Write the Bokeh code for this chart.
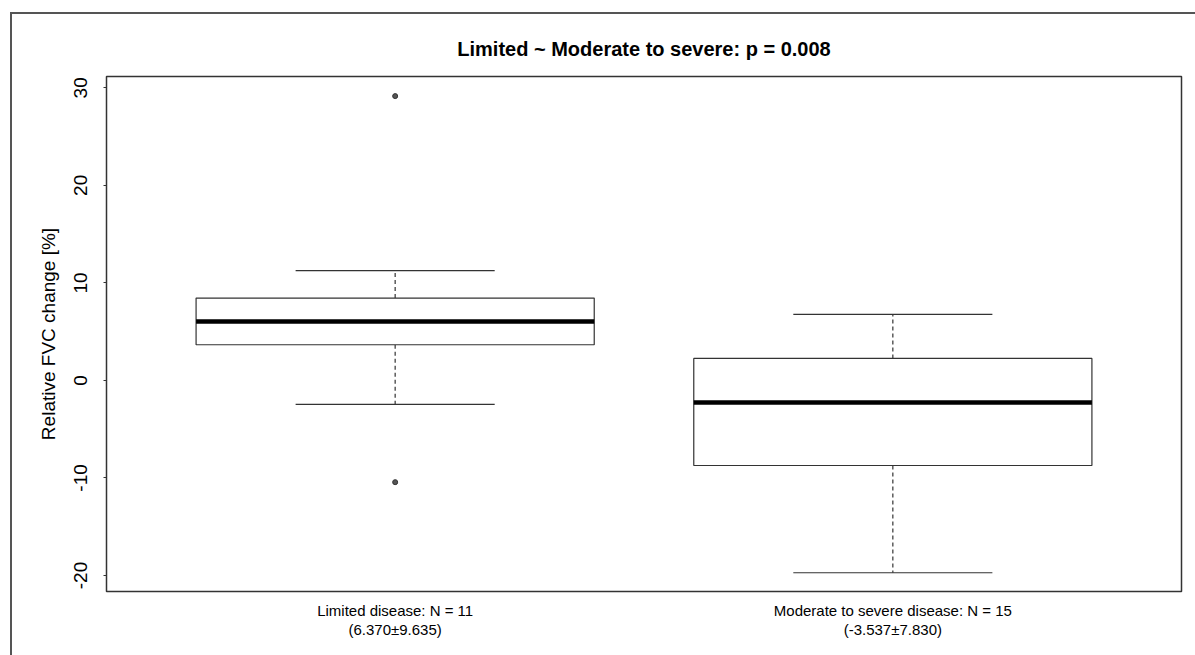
from bokeh.plotting import figure
from bokeh.models import ColumnDataSource, FixedTicker, Range1d, InlineStyleSheet
from bokeh.embed import file_html
from bokeh.resources import INLINE

# Five-number summaries of relative FVC change per disease group
group_labels = [
    "Limited disease: N = 11\n(6.370\u00b19.635)",
    "Moderate to severe disease: N = 15\n(-3.537\u00b17.830)",
]
group_pos = [1, 2]
lower_whisker = [-2.46, -19.72]
q1 = [3.66, -8.72]
median = [6.05, -2.26]
q3 = [8.44, 2.26]
upper_whisker = [11.25, 6.77]

# Points beyond the whiskers
outlier_pos = [1, 1]
outlier_val = [29.15, -10.43]

y_ticks = [-20, -10, 0, 10, 20, 30]
title_text = "Limited ~ Moderate to severe: p = 0.008"
y_label = "Relative FVC change [%]"

FONT = "Liberation Sans"
INK = "#333333"
BOX_HALF = 0.4
CAP_HALF = 0.2

src = ColumnDataSource(dict(
    x=group_pos,
    left=[g - BOX_HALF for g in group_pos],
    right=[g + BOX_HALF for g in group_pos],
    cap_l=[g - CAP_HALF for g in group_pos],
    cap_r=[g + CAP_HALF for g in group_pos],
    lw=lower_whisker, q1=q1, med=median, q3=q3, uw=upper_whisker,
))
out_src = ColumnDataSource(dict(x=outlier_pos, y=outlier_val))

# Thin grey border lines along the left and top of the graphic
frame_css = InlineStyleSheet(css="""
:host { position: relative; }
:host::after {
  content: '';
  position: absolute;
  left: 10px; top: 12px; right: 0px; bottom: 0px;
  border-style: solid none none solid;
  border-width: 2px 0 0 2px;
  border-color: #555555;
  z-index: 5;
  pointer-events: none;
}
""")

p = figure(
    width=1195, height=655,
    x_range=Range1d(0.42, 2.58), y_range=Range1d(-21.64, 31.16),
    min_border_left=106, min_border_right=14,
    min_border_top=76, min_border_bottom=64,
    output_backend="svg", toolbar_location=None,
    background_fill_color="white", border_fill_color="white",
    stylesheets=[frame_css],
)
p.xgrid.visible = False
p.ygrid.visible = False
p.outline_line_color = INK
p.outline_line_width = 1.5

# Title
p.title.text = title_text
p.title.align = "center"
p.title.text_font = FONT
p.title.text_font_size = "20px"
p.title.text_font_style = "bold"
p.title.text_color = "black"
p.title.standoff = 34

# Whiskers (dashed) and caps
p.segment(x0="x", x1="x", y0="q3", y1="uw", source=src,
          line_color=INK, line_width=1.2, line_dash="4 3")
p.segment(x0="x", x1="x", y0="q1", y1="lw", source=src,
          line_color=INK, line_width=1.2, line_dash="4 3")
p.segment(x0="cap_l", x1="cap_r", y0="uw", y1="uw", source=src,
          line_color=INK, line_width=1.2)
p.segment(x0="cap_l", x1="cap_r", y0="lw", y1="lw", source=src,
          line_color=INK, line_width=1.2)

# Boxes and medians
p.quad(left="left", right="right", bottom="q1", top="q3", source=src,
       fill_color="white", line_color=INK, line_width=1.2)
p.segment(x0="left", x1="right", y0="med", y1="med", source=src,
          line_color="black", line_width=4.5, line_cap="butt")

# Outliers
p.scatter(x="x", y="y", source=out_src, size=5, marker="circle",
          line_color=INK, fill_color="#555555", line_width=1)

# Y axis
yax = p.yaxis[0]
yax.ticker = FixedTicker(ticks=y_ticks)
yax.major_label_overrides = {t: str(t) for t in y_ticks}
yax.major_label_orientation = "vertical"
yax.major_label_text_font = FONT
yax.major_label_text_font_size = "19px"
yax.major_label_text_color = "black"
yax.major_label_standoff = 16
yax.major_tick_out = 3
yax.major_tick_in = 0
yax.major_tick_line_color = INK
yax.minor_tick_line_color = None
yax.axis_line_color = None
yax.axis_label = y_label
yax.axis_label_text_font = FONT
yax.axis_label_text_font_size = "19px"
yax.axis_label_text_font_style = "normal"
yax.axis_label_text_color = "black"
yax.axis_label_standoff = 13

# X axis with group labels
xax = p.xaxis[0]
xax.ticker = FixedTicker(ticks=group_pos)
xax.major_label_overrides = {g: lab for g, lab in zip(group_pos, group_labels)}
xax.major_label_text_font = FONT
xax.major_label_text_font_size = "15px"
xax.major_label_text_color = "black"
xax.major_label_text_line_height = 1.15
xax.major_label_standoff = 4
xax.major_tick_line_color = None
xax.minor_tick_line_color = None
xax.axis_line_color = None

open("out.html", "w").write(file_html(p, INLINE))
